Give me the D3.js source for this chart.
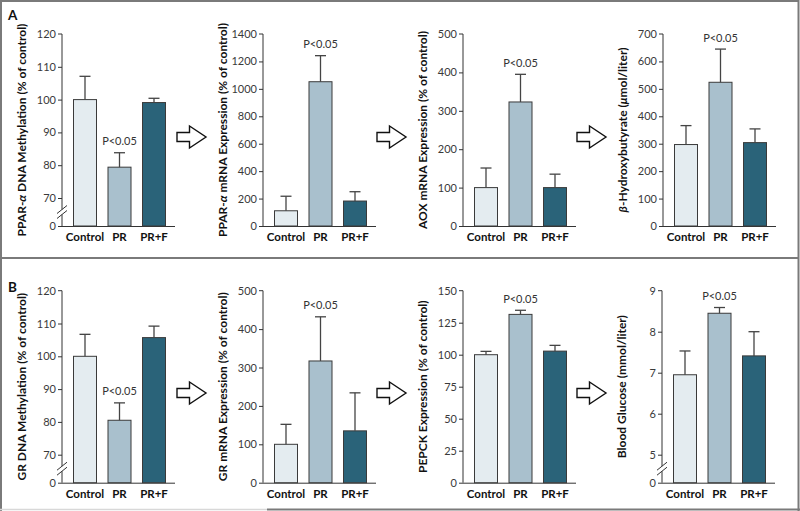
<!DOCTYPE html>
<html><head><meta charset="utf-8">
<script src="https://cdn.jsdelivr.net/npm/d3@7"></script>
<style>
html,body{margin:0;padding:0;background:#fff;}
svg{display:block;}
text{font-family:Lato,"Open Sans",sans-serif;}
</style></head>
<body>
<script>
// ---- data ----
const categories = ["Control", "PR", "PR+F"];

const a1Means = [100, 79.4, 99.1];   const a1Sem = [7.1, 4.4, 1.3];
const a2Means = [111, 1052, 182];    const a2Sem = [106, 190, 68];
const a3Means = [100, 323, 100];     const a3Sem = [51, 72, 35];
const a4Means = [297, 524, 304];     const a4Sem = [69, 121, 50];
const b1Means = [100, 80.5, 105.7];  const b1Sem = [6.7, 5.3, 3.5];
const b2Means = [100, 317, 135];     const b2Sem = [52, 115, 99];
const b3Means = [100, 131.5, 102.8]; const b3Sem = [2.6, 3.2, 4.5];
const b4Means = [6.95, 8.45, 7.41];  const b4Sem = [0.58, 0.14, 0.59];

const a1Ticks = [0, 70, 80, 90, 100, 110, 120];
const a2Ticks = [0, 200, 400, 600, 800, 1000, 1200, 1400];
const a3Ticks = [0, 100, 200, 300, 400, 500];
const a4Ticks = [0, 100, 200, 300, 400, 500, 600, 700];
const b1Ticks = [0, 70, 80, 90, 100, 110, 120];
const b2Ticks = [0, 100, 200, 300, 400, 500];
const b3Ticks = [0, 25, 50, 75, 100, 125, 150];
const b4Ticks = [0, 5, 6, 7, 8, 9];

const sigLabel = "P<0.05";
const sigIndex = 1;

const charts = [
  {panel:0, ax:62,  title:[["PPAR-",false],["α",true],[" DNA Methylation (% of control)",false]], means:a1Means, sem:a1Sem, ticks:a1Ticks, brk:[70,120]},
  {panel:0, ax:263, title:[["PPAR-",false],["α",true],[" mRNA Expression (% of control)",false]], means:a2Means, sem:a2Sem, ticks:a2Ticks},
  {panel:0, ax:463, title:[["AOX mRNA Expression (% of control)",false]], means:a3Means, sem:a3Sem, ticks:a3Ticks},
  {panel:0, ax:663, title:[["β",true],["-Hydroxybutyrate (",false],["μ",true],["mol/liter)",false]], means:a4Means, sem:a4Sem, ticks:a4Ticks},
  {panel:1, ax:62,  title:[["GR DNA Methylation (% of control)",false]], means:b1Means, sem:b1Sem, ticks:b1Ticks, brk:[70,120]},
  {panel:1, ax:263, title:[["GR mRNA Expression (% of control)",false]], means:b2Means, sem:b2Sem, ticks:b2Ticks},
  {panel:1, ax:463, title:[["PEPCK Expression (% of control)",false]], means:b3Means, sem:b3Sem, ticks:b3Ticks},
  {panel:1, ax:662, title:[["Blood Glucose (mmol/liter)",false]], means:b4Means, sem:b4Sem, ticks:b4Ticks, brk:[5,9]}
];

const colors = ["#e4ecf0", "#a9c0cd", "#2a6379"];
const panelTop = [34, 290.7];
const panelH = 192;
const breakGap = 28;

const W = 800, H = 511;
const svg = d3.select("body").append("svg").attr("width", W).attr("height", H);

// frame
svg.append("rect").attr("x",1).attr("y",1).attr("width",797.5).attr("height",520)
  .attr("fill","none").attr("stroke","#7a7a7a").attr("stroke-width",2);
svg.append("line").attr("x1",1).attr("x2",799).attr("y1",258).attr("y2",258)
  .attr("stroke","#7a7a7a").attr("stroke-width",2);
svg.append("line").attr("x1",0).attr("x2",267).attr("y1",509.5).attr("y2",509.5)
  .attr("stroke","#d8d8d8").attr("stroke-width",1.5);
svg.append("line").attr("x1",267).attr("x2",800).attr("y1",509.5).attr("y2",509.5)
  .attr("stroke","#7a7a7a").attr("stroke-width",2);

// panel letters
["A","B"].forEach((L,i)=>{
  svg.append("text").attr("x",8).attr("y",[19.5,291.5][i]).text(L)
    .attr("font-size",13.5).attr("font-weight","bold").attr("fill","#111");
});

// arrows
[0,1].forEach(p=>{
  const cy = [137, 393][p];
  [177, 377, 577].forEach(x0=>{
    const pts = [[x0,cy-4.5],[x0+12.5,cy-4.5],[x0+12.5,cy-11],[x0+29,cy],[x0+12.5,cy+11],[x0+12.5,cy+4.5],[x0,cy+4.5]];
    svg.append("polygon").attr("points", pts.map(d=>d.join(",")).join(" "))
      .attr("fill","#fff").attr("stroke","#111").attr("stroke-width",1.4).attr("stroke-linejoin","miter");
  });
});

charts.forEach(c=>{
  const top = panelTop[c.panel], bottom = top + panelH;
  const maxT = c.ticks[c.ticks.length-1];
  let y;
  if (c.brk) {
    y = d3.scaleLinear().domain([0, c.brk[0], c.brk[1]]).range([bottom, bottom - breakGap, top]);
  } else {
    y = d3.scaleLinear().domain([0, maxT]).range([bottom, top]);
  }
  const x = d3.scaleBand().domain(categories).range([c.ax + 11, c.ax + 104]).paddingInner(10.5/34.5).paddingOuter(0);
  const g = svg.append("g");

  // y axis
  const yAxis = d3.axisLeft(y).tickValues(c.ticks).tickSize(4).tickPadding(2).tickFormat(d3.format("d"));
  const ga = g.append("g").attr("transform", `translate(${c.ax},0)`).call(yAxis);
  ga.select(".domain").attr("stroke","#333").attr("stroke-width",1).attr("d", `M-4,${top}H0V${bottom}`);
  ga.selectAll(".tick line").attr("stroke","#333");
  ga.selectAll(".tick text").attr("font-size",11).attr("fill","#3a3a3a").attr("font-family","Lato, sans-serif");
  ga.selectAll(".tick").filter(d=>d===maxT).select("line").remove();

  // x axis line
  g.append("line").attr("x1",c.ax).attr("x2",c.ax+113).attr("y1",bottom+0.5).attr("y2",bottom+0.5)
    .attr("stroke","#333").attr("stroke-width",1);

  // bars
  g.selectAll("rect.bar").data(categories).join("rect").attr("class","bar")
    .attr("x", d=>x(d)+0.5).attr("width", x.bandwidth()-1)
    .attr("y", (d,i)=>y(c.means[i])).attr("height", (d,i)=>y(0)-y(c.means[i]))
    .attr("fill",(d,i)=>colors[i]).attr("stroke","#3a3a3a").attr("stroke-width",1);

  // error bars
  categories.forEach((d,i)=>{
    const cx = x(d) + x.bandwidth()/2;
    const y1 = y(c.means[i]), y2 = y(c.means[i] + c.sem[i]);
    g.append("line").attr("x1",cx).attr("x2",cx).attr("y1",y1).attr("y2",y2)
      .attr("stroke","#444").attr("stroke-width",1.3);
    g.append("line").attr("x1",cx-5.5).attr("x2",cx+5.5).attr("y1",y2).attr("y2",y2)
      .attr("stroke","#444").attr("stroke-width",1.3);
  });

  // significance label
  const si = sigIndex;
  g.append("text").attr("x", x(categories[si]) + x.bandwidth()/2)
    .attr("y", y(c.means[si] + c.sem[si]) - 7.5)
    .attr("text-anchor","middle").attr("font-size",11).attr("fill","#333").text(sigLabel);

  // category labels
  g.selectAll("text.cat").data(categories).join("text").attr("class","cat")
    .attr("x", d=>x(d)+x.bandwidth()/2).attr("y", bottom + 15)
    .attr("text-anchor","middle").attr("font-size",11.5).attr("font-weight","bold").attr("fill","#111")
    .text(d=>d);

  // axis break
  if (c.brk) {
    const yb = bottom - 14;
    g.append("rect").attr("x", c.ax-2).attr("y", yb-2.5).attr("width",4).attr("height",5).attr("fill","#fff");
    [-2.5, 2.5].forEach(o=>{
      g.append("line").attr("x1", c.ax-5).attr("x2", c.ax+5).attr("y1", yb+o+4).attr("y2", yb+o-4)
        .attr("stroke","#333").attr("stroke-width",1);
    });
  }

  // y title
  const t = g.append("text").attr("transform", `translate(${c.ax-36},${(top+bottom)/2}) rotate(-90)`)
    .attr("text-anchor","middle").attr("font-size",12).attr("font-weight","bold").attr("fill","#111");
  c.title.forEach(([s,it])=>{
    t.append("tspan").text(s).attr("font-style", it ? "italic" : "normal");
  });
});
</script>
</body></html>
